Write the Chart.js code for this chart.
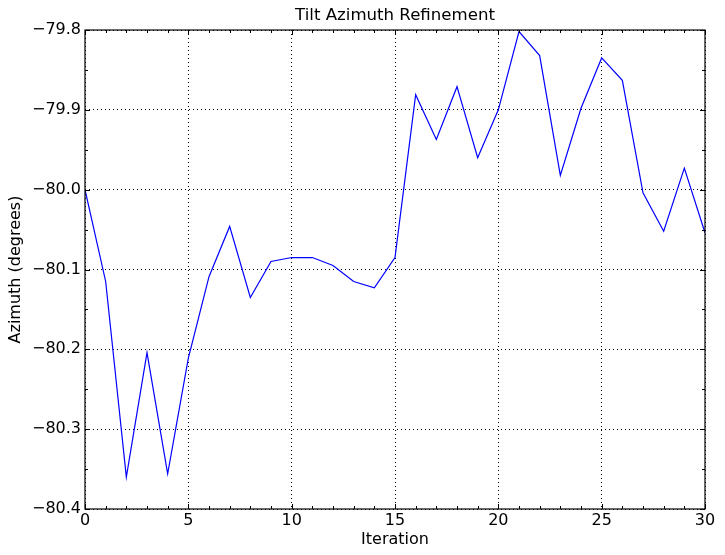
<!DOCTYPE html>
<html>
<head>
<meta charset="utf-8">
<script src="https://cdn.jsdelivr.net/npm/chart.js@4/dist/chart.umd.min.js"></script>
<style>
  html, body { margin: 0; padding: 0; background: #fff; }
  #wrap { width: 725px; height: 555px; }
</style>
</head>
<body>
<div id="wrap"><canvas id="tilt" width="725" height="555"></canvas></div>
<script>
const iterations = [0, 1, 2, 3, 4, 5, 6, 7, 8, 9, 10, 11, 12, 13, 14, 15,
    16, 17, 18, 19, 20, 21, 22, 23, 24, 25, 26, 27, 28, 29, 30];
const azimuth = [-80.000, -80.115, -80.360, -80.204, -80.356, -80.211, -80.109, -80.046,
    -80.135, -80.090, -80.085, -80.085, -80.095, -80.115, -80.123, -80.085,
    -79.881, -79.937, -79.871, -79.960, -79.900, -79.802, -79.832, -79.982,
    -79.898, -79.835, -79.863, -80.004, -80.052, -79.973, -80.054];
const xTicks = [0, 5, 10, 15, 20, 25, 30];
const yTicks = [-80.4, -80.3, -80.2, -80.1, -80.0, -79.9, -79.8];

const FONT = "'DejaVu Sans', sans-serif";

// matplotlib classic look: box frame, inward major/minor ticks on all sides
const frameTicks = {
    id: 'frameTicks',
    afterDraw(chart) {
        const ctx = chart.ctx, a = chart.chartArea;
        const xs = chart.scales.x, ys = chart.scales.y;
        ctx.save();
        ctx.strokeStyle = '#000';
        ctx.lineWidth = 1;
        const tick = (x1, y1, x2, y2) => {
            ctx.beginPath(); ctx.moveTo(x1, y1); ctx.lineTo(x2, y2); ctx.stroke();
        };
        for (let v = 0; v <= 30; v++) {
            const px = Math.round(xs.getPixelForValue(v)) + 0.5;
            const len = v % 5 === 0 ? 5 : 3;
            tick(px, a.bottom, px, a.bottom - len);
            tick(px, a.top, px, a.top + len);
        }
        for (let i = 0; i <= 12; i++) {
            const v = -80.4 + i * 0.05;
            const py = Math.round(ys.getPixelForValue(v)) + 0.5;
            const len = i % 2 === 0 ? 5 : 3;
            tick(a.left, py, a.left + len, py);
            tick(a.right, py, a.right - len, py);
        }
        ctx.lineWidth = 1.2;
        ctx.strokeRect(a.left, a.top, a.right - a.left, a.bottom - a.top);
        ctx.restore();
    }
};

const minus = v => Number(v).toFixed(1).replace('-', '\u2212');

new Chart(document.getElementById('tilt'), {
    type: 'line',
    data: {
        datasets: [{
            data: iterations.map((it, i) => ({ x: it, y: azimuth[i] })),
            borderColor: '#0000ff',
            borderWidth: 1.2,
            pointRadius: 0,
            tension: 0,
            fill: false
        }]
    },
    options: {
        responsive: false,
        animation: false,
        layout: { padding: { left: 0, right: 20, top: 0, bottom: 0 } },
        plugins: {
            legend: { display: false },
            tooltip: { enabled: false },
            title: {
                display: true,
                text: 'Tilt Azimuth Refinement',
                fullSize: false,
                color: '#000',
                font: { family: FONT, size: 16.6, weight: 'normal', lineHeight: 1.2 },
                padding: { top: 6, bottom: 4.1 }
            }
        },
        scales: {
            x: {
                type: 'linear',
                min: 0, max: 30,
                afterBuildTicks: s => { s.ticks = xTicks.map(v => ({ value: v })); },
                afterFit: s => { s.height = 46; },
                ticks: {
                    color: '#000',
                    padding: 2,
                    maxRotation: 0,
                    font: { family: FONT, size: 16 },
                    callback: v => String(v)
                },
                grid: { color: '#000', lineWidth: 1, drawTicks: false },
                border: { display: false, dash: [1, 3] },
                title: {
                    display: true, text: 'Iteration', color: '#000',
                    font: { family: FONT, size: 16 },
                    padding: { top: 0, bottom: 6 }
                }
            },
            y: {
                type: 'linear',
                min: -80.4, max: -79.8,
                afterBuildTicks: s => { s.ticks = yTicks.map(v => ({ value: v })); },
                afterFit: s => { s.width = 85; },
                ticks: {
                    color: '#000',
                    padding: 4,
                    font: { family: FONT, size: 16 },
                    callback: v => minus(v)
                },
                grid: { color: '#000', lineWidth: 1, drawTicks: false },
                border: { display: false, dash: [1, 3] },
                title: {
                    display: true, text: 'Azimuth (degrees)', color: '#000',
                    font: { family: FONT, size: 16 },
                    padding: { top: 6, bottom: 0 }
                }
            }
        }
    },
    plugins: [frameTicks]
});
</script>
</body>
</html>
